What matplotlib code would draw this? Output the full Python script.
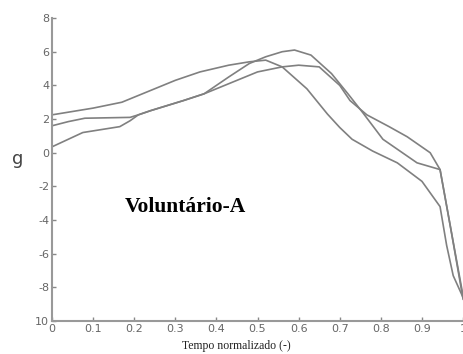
import numpy as np
import matplotlib.pyplot as plt

# three trials, acceleration (g) vs normalized time
xa = [0, 0.05, 0.10, 0.17, 0.22, 0.30, 0.36, 0.43, 0.48, 0.52, 0.56, 0.62,
      0.67, 0.70, 0.73, 0.78, 0.84, 0.90, 0.944, 0.96, 0.976, 1.0]
ya = [2.25, 2.45, 2.65, 3.0, 3.5, 4.3, 4.8, 5.2, 5.4, 5.5, 5.1, 3.8,
      2.3, 1.5, 0.8, 0.1, -0.6, -1.7, -3.2, -5.5, -7.3, -8.6]

xb = [0, 0.04, 0.08, 0.19, 0.21, 0.24, 0.32, 0.37, 0.43, 0.50, 0.56, 0.60,
      0.65, 0.70, 0.725, 0.766, 0.82, 0.864, 0.92, 0.944, 0.97, 1.0]
yb = [1.6, 1.85, 2.05, 2.1, 2.25, 2.5, 3.1, 3.5, 4.1, 4.8, 5.1, 5.2,
      5.1, 4.0, 3.1, 2.25, 1.55, 0.95, 0.0, -1.0, -4.5, -8.5]

xc = [0, 0.075, 0.165, 0.19, 0.21, 0.24, 0.32, 0.37, 0.43, 0.48, 0.52, 0.56,
      0.59, 0.63, 0.68, 0.72, 0.757, 0.805, 0.888, 0.944, 0.97, 1.0]
yc = [0.35, 1.2, 1.55, 1.9, 2.25, 2.5, 3.1, 3.5, 4.5, 5.3, 5.7, 6.0,
      6.1, 5.8, 4.7, 3.5, 2.35, 0.8, -0.6, -1.0, -4.5, -8.7]

xticks = [0, 0.1, 0.2, 0.3, 0.4, 0.5, 0.6, 0.7, 0.8, 0.9, 1]
xticklabels = ["0", "0.1", "0.2", "0.3", "0.4", "0.5", "0.6", "0.7", "0.8", "0.9", "1"]
yticks = [8, 6, 4, 2, 0, -2, -4, -6, -8, -10]
yticklabels = ["8", "6", "4", "2", "0", "-2", "-4", "-6", "-8", "10"]

fig = plt.figure(figsize=[4.64, 3.54], dpi=100)
ax = fig.add_axes([0.112, 0.093, 0.886, 0.856])

for x, y in [(xa, ya), (xb, yb), (xc, yc)]:
    ax.plot(x, y, color="#808080", lw=1.2)

ax.set_xlim(0, 1)
ax.set_ylim(-10, 8)
ax.set_xticks(xticks)
ax.set_xticklabels(xticklabels)
ax.set_yticks(yticks)
ax.set_yticklabels(yticklabels)
ax.tick_params(direction="in", length=3, width=1, colors="#888888",
               labelcolor="#666666", labelsize=8, pad=2)
for s in ["top", "right"]:
    ax.spines[s].set_visible(False)
for s in ["left", "bottom"]:
    ax.spines[s].set_color("#999999")
    ax.spines[s].set_linewidth(1.5)

ax.text(0.178, -3.2, "Voluntário-A", family="Liberation Serif",
        fontweight="bold", fontsize=15.5, va="center", ha="left")
fig.text(0.039, 0.55, "g", fontsize=13, color="#444444", ha="center", va="center")
ax.set_xlabel("Tempo normalizado (-)", family="Liberation Serif", fontsize=8.5,
              color="#222222")
ax.xaxis.set_label_coords(0.448, -0.062)

fig.savefig("out.png")
